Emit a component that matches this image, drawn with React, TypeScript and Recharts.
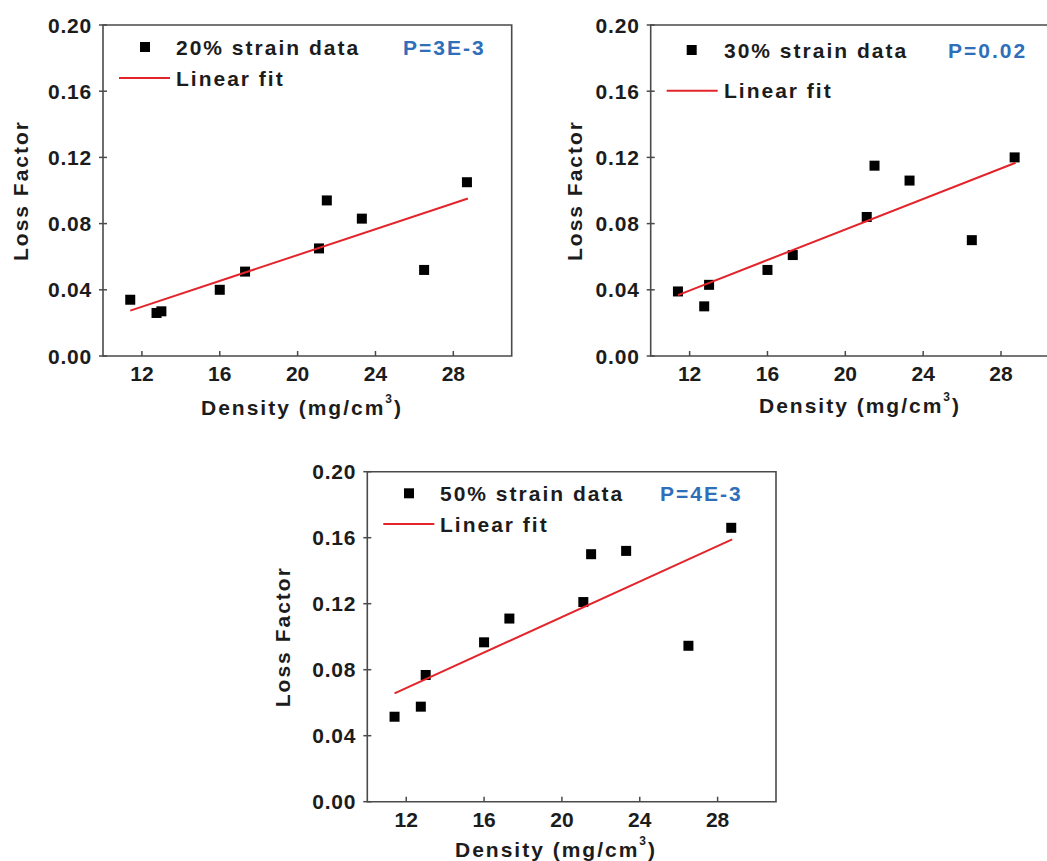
import React from 'react';
import { ScatterChart, Scatter, XAxis, YAxis, ReferenceArea, Customized } from 'recharts';

// ---- data ----
const densities = [11.4, 12.75, 13.0, 16.0, 17.3, 21.1, 21.5, 23.3, 26.5, 28.7];
const loss20 = [0.034, 0.026, 0.027, 0.040, 0.051, 0.065, 0.094, 0.083, 0.052, 0.105];
const loss30 = [0.039, 0.030, 0.043, 0.052, 0.061, 0.084, 0.115, 0.106, 0.070, 0.120];
const loss50 = [0.0515, 0.0576, 0.0768, 0.0966, 0.111, 0.121, 0.150, 0.152, 0.0945, 0.166];
const fitDensities = [11.4, 28.75];
const fit20 = [0.0274, 0.0952];
const fit30 = [0.0368, 0.1168];
const fit50 = [0.0657, 0.159];
const xTicks = [12, 16, 20, 24, 28];
const yTicks = [0, 0.04, 0.08, 0.12, 0.16, 0.2];
const seriesLabels = ['20% strain data', '30% strain data', '50% strain data'];
const pLabels = ['P=3E-3', 'P=0.02', 'P=4E-3'];
const fitLabel = 'Linear fit';
const xTitle = 'Density (mg/cm';
const xTitleSup = '3';
const yTitle = 'Loss Factor';

const toPoints = (xs: number[], ys: number[]) => xs.map((x, i) => ({ x, y: ys[i] }));

// ---- styles ----
const FONT = '"Liberation Sans", Arial, Helvetica, sans-serif';
const AX = '#4a4a4a';
const TXT = '#1c1c1c';
const RED = '#e3242b';
const BLUE = '#2f6fba';
const PLOT_W = 408.7;
const CHART_W = 540;

const panels = [
  {
    left: 0, top: 0, height: 430, yAxisW: 103, mTop: 25, plotH: 331,
    leg: { sqX: 42, row1: 22, txtX: 73, pX: 300, row2: 53 },
    yLabOff: 82.5, xLabCx: 199, xLabBase: 59,
    values: loss20, fit: fit20, label: seriesLabels[0], p: pLabels[0],
  },
  {
    left: 540, top: 0, height: 430, yAxisW: 110.7, mTop: 25, plotH: 331,
    leg: { sqX: 41, row1: 25, txtX: 73.3, pX: 297.3, row2: 65.7 },
    yLabOff: 76, xLabCx: 209.3, xLabBase: 57,
    values: loss30, fit: fit30, label: seriesLabels[1], p: pLabels[1],
  },
  {
    left: 260, top: 450, height: 411, yAxisW: 107.3, mTop: 21.7, plotH: 330,
    leg: { sqX: 41.7, row1: 21.6, txtX: 72.7, pX: 292.7, row2: 52.3 },
    yLabOff: 84.8, xLabCx: 188.7, xLabBase: 55,
    values: loss50, fit: fit50, label: seriesLabels[2], p: pLabels[2],
  },
];

const XTick = (props: any) => {
  const { x, y, payload } = props;
  return (
    <g>
      <line x1={x} x2={x} y1={y} y2={y - 5} stroke={AX} strokeWidth={1.5} />
      <text x={x} y={y + 25} textAnchor="middle" fontSize={21} fontWeight="bold" fontFamily={FONT} fill={TXT}>
        {payload.value}
      </text>
    </g>
  );
};

const YTick = (props: any) => {
  const { x, y, payload } = props;
  return (
    <g>
      <line x1={x - 4} x2={x + 4} y1={y} y2={y} stroke={AX} strokeWidth={1.5} />
      <text x={x - 11} y={y + 7.5} textAnchor="end" fontSize={21} fontWeight="bold" fontFamily={FONT} fill={TXT} style={{ letterSpacing: 0.8 }}>
        {Number(payload.value).toFixed(2)}
      </text>
    </g>
  );
};

const Square = (props: any) => {
  const { cx, cy } = props;
  if (cx == null || cy == null) return <g />;
  return <rect x={cx - 5} y={cy - 5} width={10} height={10} fill="#000" />;
};

const Overlay = ({ p }: { p: any }) => {
  const pl = p.yAxisW;
  const pt = p.mTop;
  const cx = pl - p.yLabOff;
  const cy = pt + p.plotH / 2;
  const textStyle = { letterSpacing: 2 };
  return (
    <g>
      <rect x={pl + p.leg.sqX - 5} y={pt + p.leg.row1 - 5} width={10} height={10} fill="#000" />
      <text x={pl + p.leg.txtX} y={pt + p.leg.row1 + 7.5} fontSize={21} fontWeight="bold" fontFamily={FONT} fill={TXT} style={textStyle}>
        {p.label}
      </text>
      <text x={pl + p.leg.pX} y={pt + p.leg.row1 + 7.5} fontSize={21} fontWeight="bold" fontFamily={FONT} fill={BLUE} style={textStyle}>
        {p.p}
      </text>
      <line x1={pl + 16} x2={pl + 67} y1={pt + p.leg.row2} y2={pt + p.leg.row2} stroke={RED} strokeWidth={2} />
      <text x={pl + p.leg.txtX} y={pt + p.leg.row2 + 7.5} fontSize={21} fontWeight="bold" fontFamily={FONT} fill={TXT} style={textStyle}>
        {fitLabel}
      </text>
      <text x={cx} y={cy + 7.5} transform={`rotate(-90 ${cx} ${cy})`} textAnchor="middle" fontSize={21} fontWeight="bold" fontFamily={FONT} fill={TXT} style={textStyle}>
        {yTitle}
      </text>
      <text x={pl + p.xLabCx} y={pt + p.plotH + p.xLabBase} textAnchor="middle" fontSize={21} fontWeight="bold" fontFamily={FONT} fill={TXT} style={textStyle}>
        {xTitle}
        <tspan fontSize={12} dy={-12}>{xTitleSup}</tspan>
        <tspan fontSize={21} dy={12}>)</tspan>
      </text>
    </g>
  );
};

const Panel = ({ p }: { p: any }) => {
  const data = toPoints(densities, p.values);
  const fit = toPoints(fitDensities, p.fit);
  const rightM = CHART_W - p.yAxisW - PLOT_W;
  const xAxisH = p.height - p.mTop - p.plotH;
  return (
    <div style={{ position: 'absolute', left: p.left, top: p.top, width: CHART_W, height: p.height }}>
      <ScatterChart width={CHART_W} height={p.height} margin={{ top: p.mTop, right: rightM, bottom: 0, left: 0 }}>
        <XAxis
          dataKey="x" type="number" domain={[10, 31]} ticks={xTicks} interval={0}
          height={xAxisH} tickSize={0} tickMargin={0} axisLine={false} tickLine={false}
          tick={(props: any) => <XTick {...props} />} allowDataOverflow
        />
        <YAxis
          dataKey="y" type="number" domain={[0, 0.2]} ticks={yTicks} interval={0}
          width={p.yAxisW} tickSize={0} tickMargin={0} axisLine={false} tickLine={false}
          tick={(props: any) => <YTick {...props} />} allowDataOverflow
        />
        <ReferenceArea x1={10} x2={31} y1={0} y2={0.2} fill="none" fillOpacity={0} stroke={AX} strokeWidth={1.6} />
        <Scatter data={data} shape={(props: any) => <Square {...props} />} isAnimationActive={false} />
        <Scatter data={fit} line={{ stroke: RED, strokeWidth: 2 }} shape={() => <g />} isAnimationActive={false} />
        <Customized component={() => <Overlay p={p} />} />
      </ScatterChart>
    </div>
  );
};

export default function App() {
  return (
    <div style={{ position: 'absolute', left: 0, top: 0, width: 1047, height: 861, overflow: 'hidden', background: '#fff' }}>
      {panels.map((p, i) => (
        <Panel key={i} p={p} />
      ))}
    </div>
  );
}
